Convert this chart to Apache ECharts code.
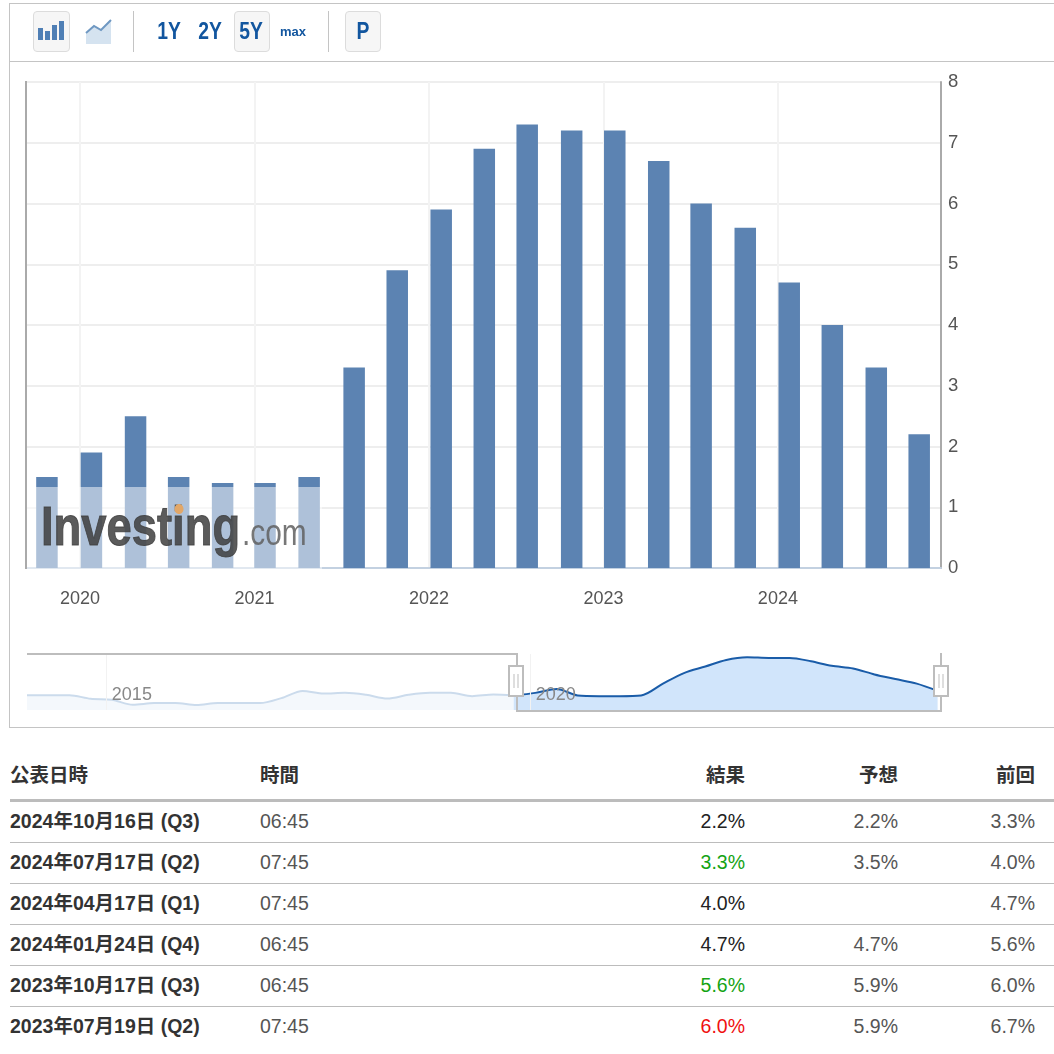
<!DOCTYPE html>
<html lang="ja">
<head>
<meta charset="UTF-8" />
<title>消費者物価指数</title>
<style>
  html, body { margin: 0; padding: 0; background: #fff; overflow: hidden; }
  body { width: 1054px; height: 1054px; position: relative; font-family: "Liberation Sans", "Noto Sans CJK JP", sans-serif; }
  #main { position: absolute; left: 0; top: 0; width: 1054px; height: 730px; }
  .hr { position: absolute; background: #c4c4c4; }
  .btn { position: absolute; top: 11px; height: 41px; box-sizing: border-box; border-radius: 4px; }
  .btn.on { border: 1px solid #dcdcdc; background: #f6f6f6; }
  .range { position: absolute; top: 11px; height: 40px; line-height: 41px; text-align: center; color: #12569f; font-weight: bold; font-size: 23px; transform: scaleX(.84); }
  .cell { position: absolute; height: 41px; line-height: 41px; font-size: 19.5px; color: #555; white-space: nowrap; }
  .cell.b { font-weight: bold; color: #333; }
  .cell.r { text-align: right; }
</style>
</head>
<body>
<div id="main"></div>

<!-- toolbar -->
<div class="hr" style="left:9px;top:3px;width:1045px;height:1px"></div>
<div class="hr" style="left:9px;top:3px;width:1px;height:724px"></div>
<div class="hr" style="left:9px;top:61px;width:1045px;height:1px"></div>
<div class="hr" style="left:9px;top:727px;width:1045px;height:1px"></div>
<div class="hr" style="left:133px;top:11px;width:1px;height:41px"></div>
<div class="hr" style="left:328px;top:11px;width:1px;height:41px"></div>
<div class="btn on" style="left:33px;width:37px">
  <svg width="35" height="38">
    <rect x="4" y="16" width="5" height="12" fill="#4f7fb5"/>
    <rect x="11" y="19" width="5" height="9" fill="#4f7fb5"/>
    <rect x="18" y="13" width="5" height="15" fill="#4f7fb5"/>
    <rect x="25" y="9" width="5" height="19" fill="#4f7fb5"/>
  </svg>
</div>
<div class="btn" style="left:84px;width:30px">
  <svg width="30" height="38">
    <path d="M2 22 L10 15 L17 19 L25 10 L27 9 L27 33 L2 33 Z" fill="#d5e3f0"/>
    <path d="M2 22 L10 15 L17 19 L27 9" fill="none" stroke="#6f98c2" stroke-width="2"/>
  </svg>
</div>
<div class="range" style="left:154px;width:30px">1Y</div>
<div class="range" style="left:195px;width:30px">2Y</div>
<div class="btn on" style="left:234px;width:36px"></div>
<div class="range" style="left:236px;width:30px">5Y</div>
<div class="range" style="left:278px;width:30px;font-size:13px;transform:none">max</div>
<div class="btn on" style="left:345px;width:36px"></div>
<div class="range" style="left:348px;width:30px">P</div>

<div id="table"></div>

<script src="https://cdnjs.cloudflare.com/ajax/libs/echarts/6.0.0/echarts.min.js"></script>
<script>
  // 棒グラフ (公表時期を年の小数で, 前年比%)
  const cpiYears = [2019.81, 2020.065, 2020.318, 2020.565, 2020.817, 2021.06, 2021.313,
    2021.571, 2021.818, 2022.07, 2022.317, 2022.563, 2022.818, 2023.065, 2023.317,
    2023.56, 2023.813, 2024.065, 2024.312, 2024.564, 2024.81]
  const cpiValues = [1.5, 1.9, 2.5, 1.5, 1.4, 1.4, 1.5, 3.3, 4.9, 5.9, 6.9, 7.3, 7.2, 7.2, 6.7, 6.0, 5.6, 4.7, 4.0, 3.3, 2.2]
  const yearTicks = [2020, 2021, 2022, 2023, 2024]

  // ナビゲーター (2020年より前)
  const historyYears = [2014.07, 2014.32, 2014.57, 2014.82, 2015.07, 2015.32, 2015.57, 2015.82,
    2016.07, 2016.32, 2016.57, 2016.82, 2017.07, 2017.32, 2017.57, 2017.82,
    2018.07, 2018.32, 2018.57, 2018.82, 2019.07, 2019.32, 2019.57, 2019.81]
  const historyValues = [1.55, 1.55, 1.55, 1.0, 0.85, 0.1, 0.35, 0.35, 0.05, 0.35, 0.35, 0.35, 1.1, 2.2, 1.8, 1.9, 1.6, 1.05, 1.6, 1.9, 1.9, 1.4, 1.65, 1.5]
  const navYearTicks = [2015, 2020]

  // 表
  const tableHeaders = ['公表日時', '時間', '結果', '予想', '前回']
  const releaseDates = ['2024年10月16日 (Q3)', '2024年07月17日 (Q2)', '2024年04月17日 (Q1)', '2024年01月24日 (Q4)', '2023年10月17日 (Q3)', '2023年07月19日 (Q2)']
  const releaseTimes = ['06:45', '07:45', '07:45', '06:45', '06:45', '07:45']
  const actuals = ['2.2%', '3.3%', '4.0%', '4.7%', '5.6%', '6.0%']
  const forecasts = ['2.2%', '3.5%', '', '4.7%', '5.9%', '5.9%']
  const previous = ['3.3%', '4.0%', '4.7%', '5.6%', '6.0%', '6.7%']

  const toPairs = (xs, ys) => xs.map((x, i) => [x, ys[i]])

  function handle(x) {
    return {
      type: 'group', x: x, y: 666,
      children: [
        { type: 'rect', z: 120, shape: { x: -7, y: 0, width: 14, height: 30 }, style: { fill: '#fff', stroke: '#bdbdbd', lineWidth: 2 } },
        { type: 'line', z: 121, shape: { x1: -2, y1: 8, x2: -2, y2: 22 }, style: { stroke: '#bdbdbd', lineWidth: 1 } },
        { type: 'line', z: 121, shape: { x1: 2, y1: 8, x2: 2, y2: 22 }, style: { stroke: '#bdbdbd', lineWidth: 1 } }
      ]
    }
  }

  let mCharts = echarts.init(document.querySelector('#main'))
  let option = {
    animation: false,
    textStyle: { fontFamily: '"Liberation Sans", sans-serif' },
    grid: [
      { left: 26, right: 113, top: 82, height: 486 },
      { left: 27, right: 113, top: 654, height: 56 }
    ],
    xAxis: [
      {
        type: 'value', gridIndex: 0, min: 2019.69, max: 2024.935,
        axisLine: { show: true, lineStyle: { color: '#c3d1e1', width: 2 } },
        axisTick: { show: false, customValues: yearTicks },
        splitLine: { show: true, lineStyle: { color: '#f3f3f3', width: 2 } },
        axisLabel: { customValues: yearTicks, formatter: v => String(v), color: '#555', fontSize: 18, margin: 22 }
      },
      {
        type: 'value', gridIndex: 1, min: 2014.07, max: 2024.85, z: 5,
        axisLine: { show: false },
        axisTick: { show: false, customValues: navYearTicks },
        splitLine: { show: true, lineStyle: { color: '#f2f2f2', width: 1 } },
        axisLabel: { inside: true, customValues: navYearTicks, formatter: v => String(v), color: '#888', fontSize: 18, align: 'left', margin: 6, padding: [0, 0, 0, 6] }
      }
    ],
    yAxis: [
      {
        type: 'value', gridIndex: 0, position: 'right', min: 0, max: 8, interval: 1,
        axisLine: { show: true, lineStyle: { color: '#aaa', width: 2 } },
        axisTick: { show: false },
        splitLine: { lineStyle: { color: '#eeeeee', width: 2 } },
        axisLabel: { color: '#555', fontSize: 18.5, margin: 7 }
      },
      { type: 'value', gridIndex: 1, min: -0.7, max: 7.8, show: false, splitLine: { show: false } }
    ],
    series: [
      {
        type: 'bar', xAxisIndex: 0, yAxisIndex: 0, barWidth: 21.5,
        itemStyle: { color: '#5c83b2' },
        data: toPairs(cpiYears, cpiValues)
      },
      {
        type: 'line', xAxisIndex: 1, yAxisIndex: 1, smooth: 0.3, showSymbol: false,
        lineStyle: { color: '#cbdbec', width: 2 },
        areaStyle: { color: '#f4f8fc', opacity: 1, origin: 'start' },
        data: toPairs(historyYears, historyValues)
      },
      {
        type: 'line', xAxisIndex: 1, yAxisIndex: 1, smooth: 0.3, showSymbol: false,
        lineStyle: { color: '#1a5ca8', width: 2 },
        areaStyle: { color: '#d1e5fb', opacity: 1, origin: 'start' },
        data: toPairs(cpiYears, cpiValues)
      }
    ],
    graphic: [
      // 左の軸線
      { type: 'line', z: 50, shape: { x1: 26, y1: 81, x2: 26, y2: 569 }, style: { stroke: '#aaa', lineWidth: 2 } },
      // ウォーターマーク
      { type: 'rect', z: 60, shape: { x: 27, y: 487, width: 295, height: 82 }, style: { fill: 'rgba(255,255,255,0.5)' } },
      { type: 'text', z: 61, x: 41, y: 502, scaleX: 0.81, style: { text: 'Investing', font: 'bold 56px "Liberation Sans"', fill: 'rgba(62,62,62,0.85)', stroke: 'rgba(62,62,62,0.85)', lineWidth: 1 } },
      { type: 'text', z: 61, x: 242, y: 517, scaleX: 0.83, style: { text: '.com', font: '36px "Liberation Sans"', fill: 'rgba(95,95,95,0.85)' } },
      { type: 'ellipse', z: 62, shape: { cx: 179, cy: 509, rx: 4.5, ry: 5 }, style: { fill: '#e2a768' } },
      // ナビゲーターの枠
      {
        type: 'polyline', z: 110,
        shape: { points: [[27, 654], [517, 654], [517, 711], [941, 711], [941, 653]] },
        style: { stroke: '#bdbdbd', lineWidth: 2, fill: 'none' }
      },
      handle(516),
      handle(941)
    ]
  }
  mCharts.setOption(option)

  // 表はHTMLで組む
  const table = document.querySelector('#table')
  const colX = [[10, 'l'], [260, 'l'], [745, 'r'], [898, 'r'], [1035, 'r']]
  function addCell(col, top, text, bold, color) {
    let el = document.createElement('div')
    let [x, align] = colX[col]
    el.className = 'cell' + (bold ? ' b' : '') + (align === 'r' ? ' r' : '')
    el.style.top = top + 'px'
    if (align === 'r') el.style.right = (1054 - x) + 'px'
    else el.style.left = x + 'px'
    if (color) el.style.color = color
    el.textContent = text
    table.appendChild(el)
  }
  function addLine(top, h) {
    let el = document.createElement('div')
    el.className = 'hr'
    el.style.cssText = `left:10px;width:1044px;top:${top}px;height:${h}px;background:#bcbcbc`
    table.appendChild(el)
  }
  tableHeaders.forEach((h, c) => addCell(c, 755, h, true))
  addLine(799, 3)
  releaseDates.forEach((d, i) => {
    let top = 801 + i * 41
    let act = parseFloat(actuals[i])
    let fc = parseFloat(forecasts[i])
    // 予想より低ければ緑, 高ければ赤
    let color = '#222'
    if (act < fc) color = '#14a314'
    if (act > fc) color = '#f00f0f'
    addCell(0, top, d, true)
    addCell(1, top, releaseTimes[i])
    addCell(2, top, actuals[i], false, color)
    addCell(3, top, forecasts[i])
    addCell(4, top, previous[i])
    if (i < releaseDates.length - 1) addLine(842 + i * 41, 1)
  })
</script>
</body>
</html>
